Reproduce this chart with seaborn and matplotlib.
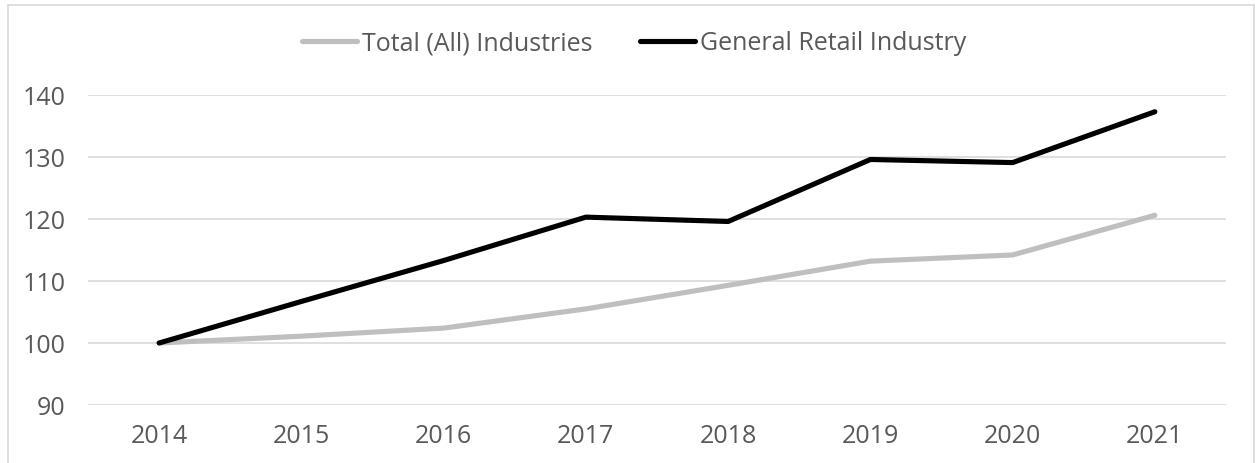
import matplotlib
matplotlib.use("Agg")
import matplotlib.pyplot as plt
from matplotlib.patches import Rectangle
import pandas as pd
import seaborn as sns

# Index values (2014 = 100)
years = ["2014", "2015", "2016", "2017", "2018", "2019", "2020", "2021"]
total_all = [100.0, 101.1, 102.4, 105.5, 109.3, 113.2, 114.2, 120.6]
general_retail = [100.0, 106.7, 113.3, 120.3, 119.6, 129.6, 129.1, 137.3]
series_names = ["Total (All) Industries", "General Retail Industry"]
y_ticks = [90, 100, 110, 120, 130, 140]

df = pd.DataFrame({
    "Year": years * 2,
    "Index": total_all + general_retail,
    "Series": [series_names[0]] * len(years) + [series_names[1]] * len(years),
})

sns.set_theme(style="white")
plt.rcParams["font.family"] = ["Open Sans", "DejaVu Sans"]

TEXT = "#595959"
GRID = "#d9d9d9"
W, H = 1255, 464
FS = 18

fig = plt.figure(figsize=(W / 100, H / 100), dpi=100)
ax = fig.add_axes([88 / W, 1 - 406 / H, (1226 - 88) / W, (406 - 96) / H])

sns.lineplot(
    data=df, x="Year", y="Index", hue="Series",
    palette={series_names[0]: "#bfbfbf", series_names[1]: "#000000"},
    linewidth=3.7, ax=ax, legend=False, sort=False,
)
for ln in ax.get_lines():
    ln.set_solid_capstyle("round")
    ln.set_solid_joinstyle("miter")

ax.set_xlim(-0.5, len(years) - 0.5)
ax.set_ylim(90, 140)
ax.set_yticks(y_ticks)
ax.yaxis.grid(True, color=GRID, linewidth=1.2)
ax.set_axisbelow(True)
for s in ax.spines.values():
    s.set_visible(False)
ax.set_xlabel("")
ax.set_ylabel("")
ax.tick_params(axis="both", length=0, labelsize=FS, labelcolor=TEXT)
ax.tick_params(axis="y", pad=16)
ax.tick_params(axis="x", pad=13)

# Legend above the plot area
handles = [
    plt.Line2D([], [], color="#bfbfbf", linewidth=3.7, solid_capstyle="round"),
    plt.Line2D([], [], color="#000000", linewidth=3.7, solid_capstyle="round"),
]
fig.legend(
    handles, series_names, loc="center", bbox_to_anchor=(634 / W, 1 - 44 / H),
    ncol=2, frameon=False, fontsize=FS, labelcolor=TEXT,
    handlelength=2.2, handletextpad=0.2, columnspacing=1.9,
)

# Outer frame around the chart
fig.patches.append(Rectangle(
    (8 / W, -0.05), (1254 - 8) / W, 1.05 - 6 / H,
    transform=fig.transFigure, fill=False, edgecolor=GRID, linewidth=1.2,
))

fig.savefig("out.png", dpi=100, facecolor="white")
